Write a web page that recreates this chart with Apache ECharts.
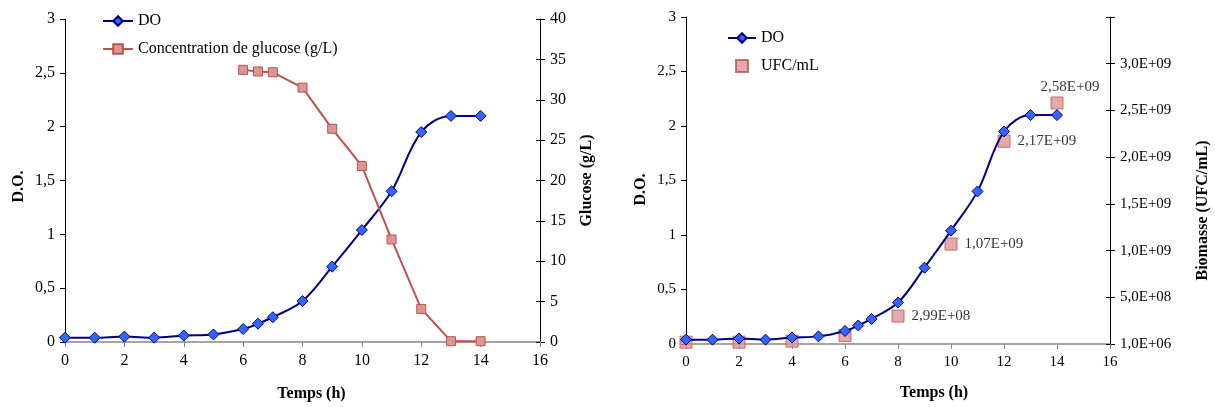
<!DOCTYPE html>
<html><head><meta charset="utf-8">
<script src="https://cdn.jsdelivr.net/npm/echarts@6.0.0/dist/echarts.min.js"></script>
<style>html,body{margin:0;padding:0;background:#fff}#c{width:1215px;height:407px}</style>
</head><body><div id="c"></div>
<script>
// ---- data ----
const timeDO = [0, 1, 2, 3, 4, 5, 6, 6.5, 7, 8, 9, 10, 11, 12, 13, 14];
const doValues = [0.04, 0.04, 0.05, 0.04, 0.06, 0.07, 0.12, 0.17, 0.23, 0.38, 0.70, 1.04, 1.40, 1.95, 2.10, 2.10];
const timeGlucose = [6, 6.5, 7, 8, 9, 10, 11, 12, 13, 14];
const glucoseValues = [33.7, 33.5, 33.4, 31.5, 26.4, 21.8, 12.7, 4.1, 0.1, 0.1];
const timeUFC = [0, 2, 4, 6, 8, 10, 12, 14];
const ufcValues = [2.0e7, 2.0e7, 3.0e7, 9.0e7, 2.99e8, 1.07e9, 2.17e9, 2.58e9];
const ufcLabelled = [false, false, false, false, true, true, true, true];
const ufcTickLabels = ['1,0E+06', '5,0E+08', '1,0E+09', '1,5E+09', '2,0E+09', '2,5E+09', '3,0E+09'];
const legendLeft = ['DO', 'Concentration de glucose (g/L)'];
const legendRight = ['DO', 'UFC/mL'];

// ---- helpers ----
const FONT = "'Liberation Serif', 'Times New Roman', serif";
const comma = v => String(v).replace('.', ',');
function fmtE(v) {
  const parts = v.toExponential(2).split('e');
  const e = parseInt(parts[1], 10);
  return parts[0].replace('.', ',') + 'E' + (e < 0 ? '-' : '+') + String(Math.abs(e)).padStart(2, '0');
}
const pairs = (xs, ys) => xs.map((x, i) => [x, ys[i]]);
const SQUARE = 'path://M0,0H10V10H0Z';

const doStyle = {
  type: 'line', smooth: 0.35, symbol: 'diamond', symbolSize: 11,
  itemStyle: { color: '#3366ff', borderColor: '#000080', borderWidth: 1 },
  lineStyle: { color: '#000080', width: 2 }
};

function xAxis(gi, fs, pad, gap) {
  return {
    gridIndex: gi, type: 'value', min: 0, max: 16, interval: 2,
    axisLine: { onZero: false, lineStyle: { color: '#868686', width: 1.5 } },
    axisTick: { length: 5, lineStyle: { color: '#868686' } },
    axisLabel: { fontFamily: FONT, fontSize: fs, color: '#000', margin: 11 },
    splitLine: { show: false },
    name: 'Temps (h)', nameLocation: 'middle', nameGap: gap,
    nameTextStyle: { fontFamily: FONT, fontSize: 16, fontWeight: 'bold', color: '#000', padding: pad }
  };
}
function yAxis(gi, pos, min, max, interval, fmt, fs, name, gap, pad) {
  return {
    gridIndex: gi, type: 'value', position: pos, min: min, max: max, interval: interval,
    axisLine: { show: true, lineStyle: { color: '#000', width: 1 } },
    axisTick: { show: true, length: 5, lineStyle: { color: '#000' } },
    axisLabel: { fontFamily: FONT, fontSize: fs, color: '#000', margin: 10, formatter: fmt },
    splitLine: { show: false },
    name: name, nameLocation: 'middle', nameGap: gap,
    nameTextStyle: { fontFamily: FONT, fontSize: 16, fontWeight: 'bold', color: '#000', padding: pad }
  };
}
// inner half of the crossing ticks on the right-hand axes
function innerTicks(gi, min, max, interval) {
  return {
    gridIndex: gi, type: 'value', position: 'right', min: min, max: max, interval: interval,
    axisLine: { show: false }, axisLabel: { show: false }, splitLine: { show: false },
    axisTick: { show: true, inside: true, length: 4, lineStyle: { color: '#000' } }
  };
}

const ufcData = timeUFC.map((t, i) => {
  const item = { value: [t, ufcValues[i]] };
  if (ufcLabelled[i]) {
    const last = i === timeUFC.length - 1;
    item.label = {
      show: true, formatter: fmtE(ufcValues[i]),
      position: last ? 'top' : 'right', distance: last ? 2 : 7,
      offset: last ? [13, 0] : [0, 0],
      fontFamily: FONT, fontSize: 15, color: '#000'
    };
  }
  return item;
});

const option = {
  backgroundColor: '#fff',
  animation: false,
  grid: [
    { left: 65, top: 19, width: 475, height: 326 },
    { left: 686, top: 17, width: 424, height: 327 }
  ],
  legend: [
    { data: legendLeft, left: 97, top: 8, orient: 'vertical', itemGap: 12, itemWidth: 30, itemHeight: 12,
      textStyle: { fontFamily: FONT, fontSize: 16, color: '#000', lineHeight: 16 } },
    { data: legendRight.map(n => n === 'UFC/mL' ? { name: n, icon: SQUARE } : n),
      left: 722, top: 25, orient: 'vertical', itemGap: 12, itemWidth: 28, itemHeight: 12,
      textStyle: { fontFamily: FONT, fontSize: 16, color: '#000', lineHeight: 16 } }
  ],
  xAxis: [xAxis(0, 16, [0, 0, 0, 18], 44), xAxis(1, 15, [0, 0, 0, 72], 41)],
  yAxis: [
    yAxis(0, 'left', 0, 3, 0.5, comma, 16, 'D.O.', 38, [0, 12, 0, 0]),
    yAxis(0, 'right', 0, 40, 5, v => String(v), 16, 'Glucose (g/L)', 39, 0),
    yAxis(1, 'left', 0, 3, 0.5, comma, 15, 'D.O.', 37, [0, 18, 0, 0]),
    yAxis(1, 'right', 0, 3.5e9, 5e8, v => ufcTickLabels[Math.round(v / 5e8)] || '', 15, 'Biomasse (UFC/mL)', 85, [0, 60, 0, 0]),
    innerTicks(0, 0, 40, 5),
    innerTicks(1, 0, 3.5e9, 5e8)
  ],
  series: [
    Object.assign({}, doStyle, { name: 'DO', xAxisIndex: 0, yAxisIndex: 0, data: pairs(timeDO, doValues) }),
    { name: 'Concentration de glucose (g/L)', type: 'line', xAxisIndex: 0, yAxisIndex: 1,
      symbol: 'rect', symbolSize: 9,
      itemStyle: { color: '#d99694', borderColor: '#c0504d', borderWidth: 1 },
      lineStyle: { color: '#c0504d', width: 2 },
      data: pairs(timeGlucose, glucoseValues) },
    Object.assign({}, doStyle, { name: 'DO', xAxisIndex: 1, yAxisIndex: 2, data: pairs(timeDO, doValues) }),
    { name: 'UFC/mL', type: 'scatter', xAxisIndex: 1, yAxisIndex: 3,
      symbol: 'rect', symbolSize: 12,
      itemStyle: { color: '#d99694', borderColor: '#c0504d', borderWidth: 1 },
      data: ufcData }
  ]
};
echarts.init(document.getElementById('c'), null, { renderer: 'canvas' }).setOption(option);
</script>
</body></html>
